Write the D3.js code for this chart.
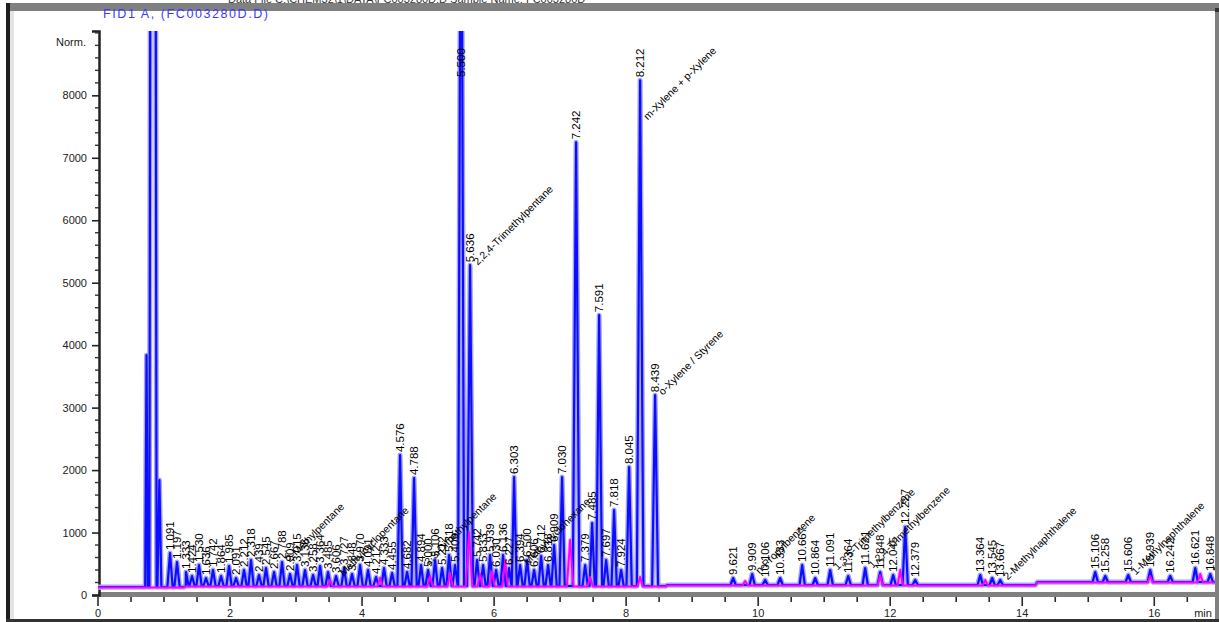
<!DOCTYPE html>
<html>
<head>
<meta charset="utf-8">
<script src="https://cdn.jsdelivr.net/npm/d3@7"></script>
<style>
  body { margin: 0; background: #fff; }
  svg { display: block; }
  text { font-family: "Liberation Sans", Arial, sans-serif; }
</style>
</head>
<body>
<svg id="chart" width="1219" height="622"></svg>
<script>
// ---- chart text ----
const headerText = "Data File C:\\CHEM32\\1\\DATA\\FC003280D.D   Sample Name: FC003280D";
const signalName = "FID1 A, (FC003280D.D)";
const yUnit = "Norm.";
const xUnit = "min";

// ---- axis ticks ----
const xTickValues = [0, 2, 4, 6, 8, 10, 12, 14, 16];
const yTickValues = [0, 1000, 2000, 3000, 4000, 5000, 6000, 7000, 8000];

// ---- FID signal: baseline level steps [time, response] ----
const fidBaseline = [[0, 128], [1.3, 144], [8.6, 160], [14.2, 208]];

// ---- FID signal peaks: [retention time (min), apex response, half width (min, optional)] ----
const fidPeaks = [
  [0.735, 3840, 0.02], [0.833, 40000, 0.055], [0.93, 1840, 0.03],
  [1.091, 672], [1.197, 528],
  [1.333, 368], [1.424, 304], [1.530, 480], [1.636, 272], [1.742, 400],
  [1.864, 304], [1.985, 464], [2.091, 272], [2.212, 400], [2.318, 560],
  [2.439, 320], [2.545, 432], [2.667, 368], [2.788, 528], [2.909, 336],
  [3.015, 480], [3.136, 400], [3.258, 320], [3.364, 464], [3.485, 368],
  [3.606, 304], [3.727, 432], [3.848, 336], [3.970, 480], [4.091, 400],
  [4.212, 288], [4.333, 432], [4.455, 352], [4.576, 2240], [4.682, 368],
  [4.788, 1872], [4.894, 480], [5.000, 400], [5.106, 560], [5.212, 432],
  [5.318, 640], [5.409, 480], [5.500, 14000, 0.045], [5.636, 5280, 0.045],
  [5.742, 560], [5.833, 480], [5.939, 640], [6.030, 400], [6.136, 640],
  [6.227, 432], [6.303, 1888], [6.394, 480], [6.500, 560], [6.606, 400],
  [6.712, 624], [6.818, 480], [6.909, 800], [7.030, 1888], [7.242, 7248, 0.05],
  [7.379, 480], [7.485, 1152], [7.591, 4480, 0.045], [7.697, 560], [7.818, 1360],
  [7.924, 400], [8.045, 2048], [8.212, 8240, 0.05], [8.439, 3200, 0.045],
  [9.621, 272], [9.909, 336], [10.106, 240], [10.333, 272], [10.667, 480],
  [10.864, 272], [11.091, 400], [11.364, 304], [11.621, 432], [11.848, 368],
  [12.045, 320], [12.227, 1088], [12.379, 240], [13.364, 320], [13.545, 272],
  [13.667, 240], [15.106, 368], [15.258, 304], [15.606, 320], [15.939, 400],
  [16.242, 304], [16.621, 432], [16.848, 336]
];

// ---- second trace (magenta), sharing the FID baseline ----
const auxBaseline = [[0, 120], [1.3, 136], [8.6, 152], [14.2, 200]];
const auxPeaks = [
  [3.515, 240], [4.273, 272], [5.030, 304], [5.333, 352],
  [5.621, 1008, 0.05], [5.788, 336], [5.970, 384], [6.167, 560],
  [7.152, 880, 0.05], [7.455, 288], [8.212, 288], [9.803, 224],
  [11.848, 320], [12.152, 400], [13.439, 240], [15.939, 304], [16.697, 336]
];

// ---- compound names written at 45 degrees: [retention time, name] ----
const peakNames = [
  [2.788, "2-Methylpentane"],
  [3.606, "Methylcyclopentane"],
  [4.894, "2,3-Dimethylpentane"],
  [5.636, "2,2,4-Trimethylpentane"],
  [6.394, "Methylcyclohexane"],
  [8.212, "m-Xylene + p-Xylene"],
  [8.439, "o-Xylene / Styrene"],
  [9.909, "n-Propylbenzene"],
  [11.091, "1,3,5-Trimethylbenzene"],
  [11.621, "1,2,4-Trimethylbenzene"],
  [13.667, "2-Methylnaphthalene"],
  [15.606, "1-Methylnaphthalene"],
  [16.848, "Dimethylnaphthalene"]
];

// ---- layout ----
const svg = d3.select("#chart");
const plot = { left: 98, right: 1215, top: 31, bottom: 595 };
const tEnd = 16.92;
const x = d3.scaleLinear().domain([0, tEnd]).range([plot.left, plot.right]);
const y = d3.scaleLinear().domain([0, 9030]).range([plot.bottom, plot.top]);
const defaultHalfWidth = 0.04;

function baseAt(knots, t) {
  let v = knots[0][1];
  for (const k of knots) if (t >= k[0]) v = k[1];
  return v;
}

// Polyline through the baseline and each peak's start, apex and end
function tracePoints(peaks, knots) {
  const pts = [[0, baseAt(knots, 0)]];
  knots.slice(1).forEach(k => {
    pts.push([k[0], baseAt(knots, k[0] - 1e-6)]);
    pts.push([k[0] + 0.03, k[1]]);
  });
  peaks.forEach(p => {
    const w = p[2] || defaultHalfWidth;
    pts.push([p[0] - w, baseAt(knots, p[0] - w)]);
    pts.push([p[0], p[1]]);
    pts.push([p[0] + w, baseAt(knots, p[0] + w)]);
  });
  pts.push([tEnd, baseAt(knots, tEnd)]);
  return pts.sort((a, b) => a[0] - b[0]);
}

svg.append("rect").attr("width", 1219).attr("height", 622).attr("fill", "#fff");

svg.append("defs").append("clipPath").attr("id", "plotClip")
  .append("rect")
  .attr("x", plot.left).attr("y", plot.top)
  .attr("width", plot.right - plot.left).attr("height", 600 - plot.top);

// ---- x axis ----
const xAxisG = svg.append("g");
xAxisG.append("line")
  .attr("x1", plot.left).attr("x2", plot.right)
  .attr("y1", 594.5).attr("y2", 594.5)
  .attr("stroke", "#808080").attr("stroke-width", 5);

const xMinor = d3.range(0, tEnd, 0.5);
xAxisG.selectAll("line.xminor").data(xMinor).join("line")
  .attr("class", "xminor")
  .attr("x1", d => x(d)).attr("x2", d => x(d))
  .attr("y1", 597).attr("y2", d => xTickValues.includes(d) ? 606 : 602)
  .attr("stroke", "#2a2a2a").attr("stroke-width", 1.6);

xAxisG.selectAll("text.xlab").data(xTickValues).join("text")
  .attr("class", "xlab")
  .attr("x", d => x(d)).attr("y", 617)
  .attr("text-anchor", "middle")
  .attr("font-size", 11).attr("fill", "#222")
  .text(d => d);

xAxisG.append("text")
  .attr("x", 1203).attr("y", 617)
  .attr("text-anchor", "middle")
  .attr("font-size", 11).attr("fill", "#222")
  .text(xUnit);

// ---- y axis ----
const yAxis = d3.axisLeft(y).tickValues(yTickValues).tickFormat(d3.format("d"))
  .tickSize(7).tickPadding(5);
const yAxisG = svg.append("g").attr("transform", `translate(${plot.left + 1},0)`).call(yAxis);
yAxisG.select(".domain").attr("stroke", "#222").attr("stroke-width", 2.5);
yAxisG.selectAll(".tick line").attr("stroke", "#222").attr("stroke-width", 1.6);
yAxisG.selectAll(".tick text").attr("font-size", 11).attr("fill", "#222")
  .attr("font-family", "Liberation Sans, Arial, sans-serif");

const yMinor = d3.range(0, 9001, 200).filter(v => !yTickValues.includes(v));
yAxisG.selectAll("line.yminor").data(yMinor).join("line")
  .attr("class", "yminor")
  .attr("x1", 0).attr("x2", -4)
  .attr("y1", d => y(d)).attr("y2", d => y(d))
  .attr("stroke", "#333").attr("stroke-width", 1.4);

svg.append("text")
  .attr("x", 86).attr("y", 42).attr("dy", "0.35em")
  .attr("text-anchor", "end")
  .attr("font-size", 11).attr("fill", "#222")
  .text(yUnit);

// ---- traces ----
const line = d3.line().x(d => x(d[0])).y(d => y(d[1]));
const traces = svg.append("g").attr("clip-path", "url(#plotClip)");

const fidPts = tracePoints(fidPeaks, fidBaseline);
const auxPts = tracePoints(auxPeaks, auxBaseline);

traces.append("path").attr("d", line(auxPts))
  .attr("fill", "none").attr("stroke", "#ffa0ff").attr("stroke-width", 4)
  .attr("stroke-linejoin", "round");
traces.append("path").attr("d", line(fidPts))
  .attr("fill", "none").attr("stroke", "#a4a4ff").attr("stroke-width", 5)
  .attr("stroke-linejoin", "round");
traces.append("path").attr("d", line(fidPts))
  .attr("fill", "none").attr("stroke", "#0c0cff").attr("stroke-width", 2.2)
  .attr("stroke-linejoin", "round");
traces.append("path").attr("d", line(auxPts))
  .attr("fill", "none").attr("stroke", "#ff00ff").attr("stroke-width", 2)
  .attr("stroke-linejoin", "round");

// ---- peak annotations ----
const labels = svg.append("g").attr("clip-path", "url(#plotClip)");
const yMaxVal = y.domain()[1];
const labelled = fidPeaks.filter(p => p[0] > 1.0);

labels.selectAll("text.rt").data(labelled).join("text")
  .attr("class", "rt")
  .attr("transform", p => {
    const yy = p[1] > yMaxVal ? plot.top + 46 : y(p[1]) - 3;
    return `translate(${x(p[0])},${yy}) rotate(-90)`;
  })
  .attr("dy", "0.35em")
  .attr("font-size", 11.5).attr("fill", "#000")
  .text(p => d3.format(".3f")(p[0]));

const peakHeight = new Map(fidPeaks.map(p => [p[0], p[1]]));
labels.selectAll("text.name").data(peakNames).join("text")
  .attr("class", "name")
  .attr("transform", d => {
    const yy = Math.max(y(peakHeight.get(d[0])) - 2, plot.top + 87);
    return `translate(${x(d[0]) + 5},${yy}) rotate(-45)`;
  })
  .attr("dy", "0.35em")
  .attr("font-size", 10.5).attr("fill", "#000")
  .text(d => d[1]);

// ---- titles ----
svg.append("text")
  .attr("x", 228).attr("y", 3)
  .attr("font-size", 11).attr("fill", "#333")
  .text(headerText);

// ---- window frame ----
svg.append("rect").attr("x", 6).attr("y", 3).attr("width", 1213).attr("height", 8).attr("fill", "#808080");
svg.append("rect").attr("x", 6).attr("y", 3).attr("width", 4).attr("height", 617).attr("fill", "#1e1e1e");
svg.append("rect").attr("x", 10).attr("y", 11).attr("width", 4).attr("height", 609).attr("fill", "#e4e4e4");
svg.append("rect").attr("x", 1215).attr("y", 8).attr("width", 4).attr("height", 612).attr("fill", "#808080");
svg.append("rect").attr("x", 1215).attr("y", 8).attr("width", 4).attr("height", 4).attr("fill", "#333");
svg.append("rect").attr("x", 6).attr("y", 619).attr("width", 1213).attr("height", 3).attr("fill", "#333");

svg.append("text")
  .attr("x", 103).attr("y", 18)
  .attr("font-size", 12.5).attr("fill", "#3a3aff")
  .attr("textLength", 165).attr("lengthAdjust", "spacing")
  .text(signalName);
</script>
</body>
</html>
